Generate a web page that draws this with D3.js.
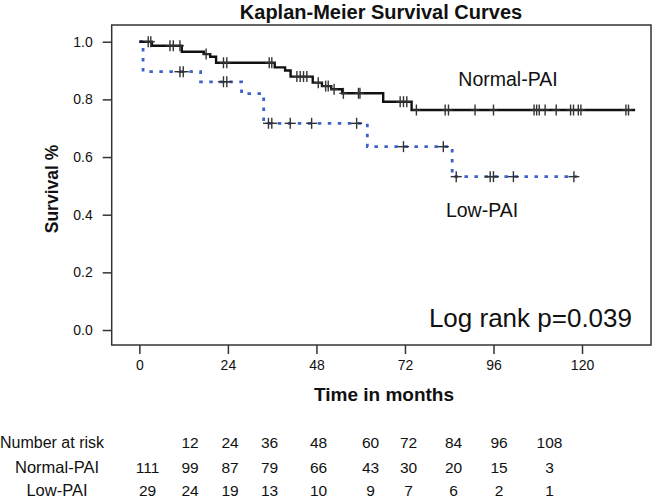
<!DOCTYPE html>
<html><head><meta charset="utf-8">
<script src="https://cdn.jsdelivr.net/npm/d3@7/dist/d3.min.js"></script>
<style>
html,body{margin:0;padding:0;background:#fff;}
svg text{font-family:"Liberation Sans",Arial,Helvetica,sans-serif;fill:#111;}
</style></head>
<body><svg id="chart" width="657" height="504"></svg>
<script>
// ---- data ----
const normalStepTimes = [0, 3.4, 11.5, 17.5, 19.2, 20.8, 36.7, 39.5, 41.0, 47.0, 49.5, 52.0, 55.0, 66.1, 73.8];
const normalStepSurv  = [1.0, 0.986, 0.965, 0.957, 0.948, 0.927, 0.911, 0.900, 0.879, 0.858, 0.846, 0.835, 0.821, 0.792, 0.763];
const normalEnd = 134.4;
const normalCensor = [2.4, 3.1, 8.3, 9.2, 11, 18.1, 22.8, 23.7, 35.2, 35.9, 42.7, 43.6, 44.5, 45.4, 48.5, 50.5, 51.2, 52.8, 55.3, 59.4, 59.8, 70.7, 71.6, 72.5, 75.1, 82.9, 83.8, 91, 96, 107, 107.7, 108.4, 110, 113, 116.9, 117.7, 119, 119.7, 131.9, 132.6];

const lowStepTimes = [0, 1.0, 16.6, 27.7, 33.7, 61.8, 84.8];
const lowStepSurv  = [1.0, 0.896, 0.861, 0.820, 0.717, 0.636, 0.532];
const lowEnd = 118.6;
const lowCensor = [11, 11.9, 22.8, 23.7, 35, 35.9, 40.9, 46.7, 58.9, 71.6, 82.4, 85.9, 95.1, 96, 101.4, 117.8];

const xTicks = [0, 24, 48, 72, 96, 120];
const yTicks = [0.0, 0.2, 0.4, 0.6, 0.8, 1.0];

const riskHeader = ["", "12", "24", "36", "48", "60", "72", "84", "96", "108"];
const riskNormal = [111, 99, 87, 79, 66, 43, 30, 20, 15, 3];
const riskLow    = [29, 24, 19, 13, 10, 9, 7, 6, 2, 1];
const groupNames = ["Normal-PAI", "Low-PAI"];

// ---- layout ----
const riskColX = [147.5, 190, 230, 269.5, 318.5, 370.5, 408.5, 453.5, 499, 549.5];
const svg = d3.select("#chart");
const L = 111.7, R = 651, T = 25, B = 345;

const x = d3.scaleLinear().domain([-7.5, 138.7]).range([L, R]);
const y = d3.scaleLinear().domain([-0.052, 1.058]).range([B, T]);

// title
svg.append("text").attr("x", 381).attr("y", 19).attr("text-anchor", "middle")
  .attr("font-size", 20).attr("font-weight", "bold").text("Kaplan-Meier Survival Curves");

// axes
const yAxis = d3.axisLeft(y).tickValues(yTicks).tickFormat(d3.format(".1f")).tickSize(9).tickSizeOuter(0).tickPadding(10);
const gy = svg.append("g").attr("transform", `translate(${L},0)`).call(yAxis);
gy.select(".domain").remove();
gy.selectAll(".tick line").attr("stroke", "#333").attr("stroke-width", 1.5);
gy.selectAll(".tick text").attr("font-size", 14).attr("font-family", null).style("fill", "#111");

const xAxis = d3.axisBottom(x).tickValues(xTicks).tickSize(9).tickSizeOuter(0).tickPadding(6);
const gx = svg.append("g").attr("transform", `translate(0,${B})`).call(xAxis);
gx.select(".domain").remove();
gx.selectAll(".tick line").attr("stroke", "#333").attr("stroke-width", 1.5);
gx.selectAll(".tick text").attr("font-size", 14).attr("font-family", null).style("fill", "#111");

// frame
svg.append("rect").attr("x", L).attr("y", T).attr("width", R - L).attr("height", B - T)
  .attr("fill", "none").attr("stroke", "#333").attr("stroke-width", 1.5);

// axis titles
svg.append("text").attr("transform", `translate(52,189) rotate(-90)`).attr("text-anchor", "middle")
  .attr("dominant-baseline", "central").attr("font-size", 17.5).attr("font-weight", "bold").text("Survival %");
svg.append("text").attr("x", 384).attr("y", 401).attr("text-anchor", "middle")
  .attr("font-size", 19).attr("font-weight", "bold").text("Time in months");

// curves
function stepPoints(times, surv, end) {
  const pts = times.map((t, i) => [t, surv[i]]);
  pts.push([end, surv[surv.length - 1]]);
  return pts;
}
function survAt(times, surv, t) {
  let s = surv[0];
  for (let i = 0; i < times.length; i++) if (times[i] <= t) s = surv[i];
  return s;
}
const line = d3.line().x(d => x(d[0])).y(d => y(d[1])).curve(d3.curveStepAfter);

svg.append("path").datum(stepPoints(lowStepTimes, lowStepSurv, lowEnd))
  .attr("d", line).attr("fill", "none").attr("stroke", "#3a62c9").attr("stroke-width", 2.8)
  .attr("stroke-dasharray", "3.5,6.5");
svg.append("path").datum(stepPoints(normalStepTimes, normalStepSurv, normalEnd))
  .attr("d", line).attr("fill", "none").attr("stroke", "#111").attr("stroke-width", 2.4);

function censor(times, stepT, stepS, hw) {
  const g = svg.append("g").attr("stroke", "#333").attr("stroke-width", 1.4);
  times.forEach(t => {
    const cx = x(t), cy = y(survAt(stepT, stepS, t));
    g.append("line").attr("x1", cx).attr("x2", cx).attr("y1", cy - 5.5).attr("y2", cy + 5.5);
    g.append("line").attr("x1", cx - hw).attr("x2", cx + hw).attr("y1", cy).attr("y2", cy);
  });
}
censor(normalCensor, normalStepTimes, normalStepSurv, 4);
censor(lowCensor, lowStepTimes, lowStepSurv, 5.5);

// labels
svg.append("text").attr("x", 508).attr("y", 86).attr("text-anchor", "middle")
  .attr("font-size", 19.5).text(groupNames[0]);
svg.append("text").attr("x", 482).attr("y", 217).attr("text-anchor", "middle")
  .attr("font-size", 19.5).text(groupNames[1]);
svg.append("text").attr("x", 632).attr("y", 327).attr("text-anchor", "end")
  .attr("font-size", 26).text("Log rank p=0.039");

// number at risk table
const rowY = [448, 473, 496];
svg.append("text").attr("x", 0).attr("y", rowY[0]).attr("font-size", 16).text("Number at risk");
svg.append("text").attr("x", 57).attr("y", rowY[1]).attr("text-anchor", "middle").attr("font-size", 16.5).text(groupNames[0]);
svg.append("text").attr("x", 57).attr("y", rowY[2]).attr("text-anchor", "middle").attr("font-size", 16.5).text(groupNames[1]);
[riskHeader, riskNormal, riskLow].forEach((row, r) => {
  svg.append("g").selectAll("text").data(row).join("text")
    .attr("x", (d, i) => riskColX[i]).attr("y", rowY[r]).attr("text-anchor", "middle")
    .attr("font-size", 15.5).text(d => d);
});
</script></body></html>
